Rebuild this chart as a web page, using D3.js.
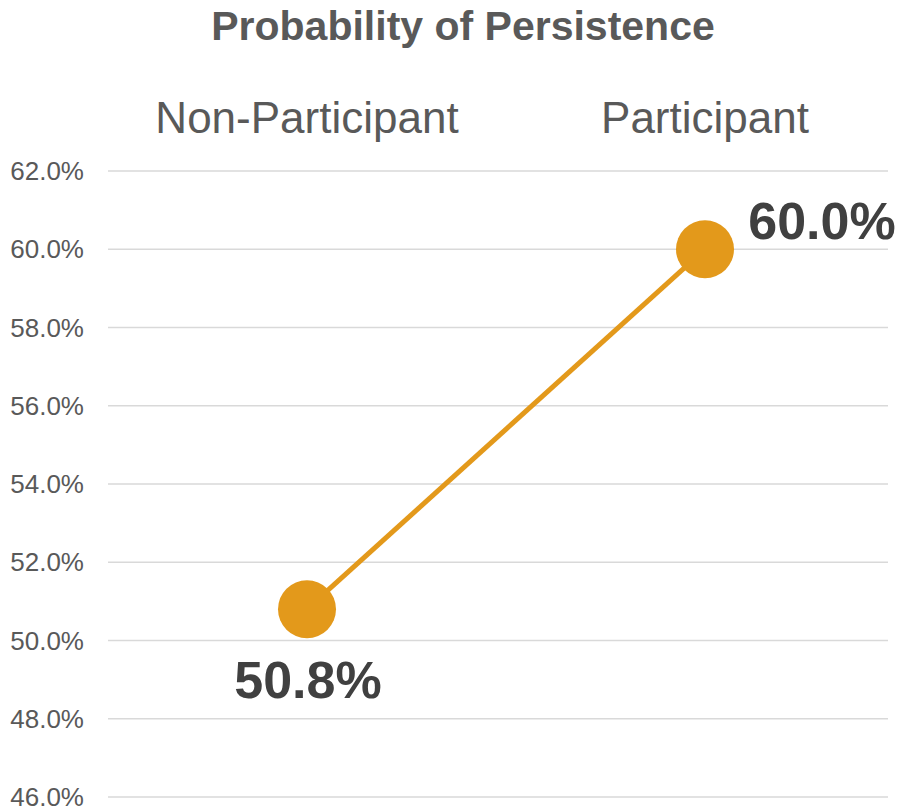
<!DOCTYPE html>
<html>
<head>
<meta charset="utf-8">
<script src="https://cdn.jsdelivr.net/npm/d3@7"></script>
<style>
  body { margin: 0; background: #fff; }
  text { font-family: "Liberation Sans", Arial, sans-serif; }
</style>
</head>
<body>
<svg width="900" height="809"></svg>
<script>
var categories = ["Non-Participant", "Participant"];
var values = [0.508, 0.600];
var yTicks = [0.46, 0.48, 0.50, 0.52, 0.54, 0.56, 0.58, 0.60, 0.62];

var svg = d3.select("svg"),
  width = +svg.attr("width"),
  height = +svg.attr("height");

var plotLeft = 108, plotRight = 888, plotTop = 171, plotBottom = 797;

var x = d3.scaleBand().domain(categories).range([plotLeft, plotLeft + 796]);
var y = d3.scaleLinear().domain([0.46, 0.62]).range([plotBottom, plotTop]);

// title
svg.append("text")
  .attr("x", 463).attr("y", 40)
  .attr("text-anchor", "middle")
  .attr("font-size", "41px").attr("font-weight", "bold")
  .attr("fill", "#595959")
  .text("Probability of Persistence");

// gridlines
svg.append("g").selectAll("line")
  .data(yTicks).enter().append("line")
  .attr("x1", plotLeft).attr("x2", plotRight)
  .attr("y1", function (d) { return y(d); })
  .attr("y2", function (d) { return y(d); })
  .attr("stroke", "#d9d9d9").attr("stroke-width", 1.5);

// y axis labels
svg.append("g").selectAll("text")
  .data(yTicks).enter().append("text")
  .attr("x", 84)
  .attr("y", function (d) { return y(d) + 9; })
  .attr("text-anchor", "end")
  .attr("font-size", "26px")
  .attr("fill", "#595959")
  .text(function (d) { return d3.format(".1%")(d); });

// category labels on top
svg.append("g").selectAll("text")
  .data(categories).enter().append("text")
  .attr("x", function (d) { return x(d) + x.bandwidth() / 2; })
  .attr("y", 133)
  .attr("text-anchor", "middle")
  .attr("font-size", "44px")
  .attr("fill", "#595959")
  .text(function (d) { return d; });

var pts = categories.map(function (c, i) { return { c: c, v: values[i] }; });
var cx = function (d) { return x(d.c) + x.bandwidth() / 2; };

var line = d3.line().x(cx).y(function (d) { return y(d.v); });

svg.append("path")
  .datum(pts)
  .attr("d", line)
  .attr("fill", "none")
  .attr("stroke", "#E3991B")
  .attr("stroke-width", 5);

svg.append("g").selectAll("circle")
  .data(pts).enter().append("circle")
  .attr("cx", cx)
  .attr("cy", function (d) { return y(d.v); })
  .attr("r", 29)
  .attr("fill", "#E3991B");

// data labels
svg.append("g").selectAll("text")
  .data(pts).enter().append("text")
  .attr("x", function (d, i) { return i == 0 ? cx(d) + 1 : cx(d) + 117; })
  .attr("y", function (d, i) { return i == 0 ? y(d.v) + 89 : y(d.v) - 10; })
  .attr("text-anchor", "middle")
  .attr("font-size", "52px").attr("font-weight", "bold")
  .attr("fill", "#404040")
  .text(function (d) { return d3.format(".1%")(d.v); });
</script>
</body>
</html>
